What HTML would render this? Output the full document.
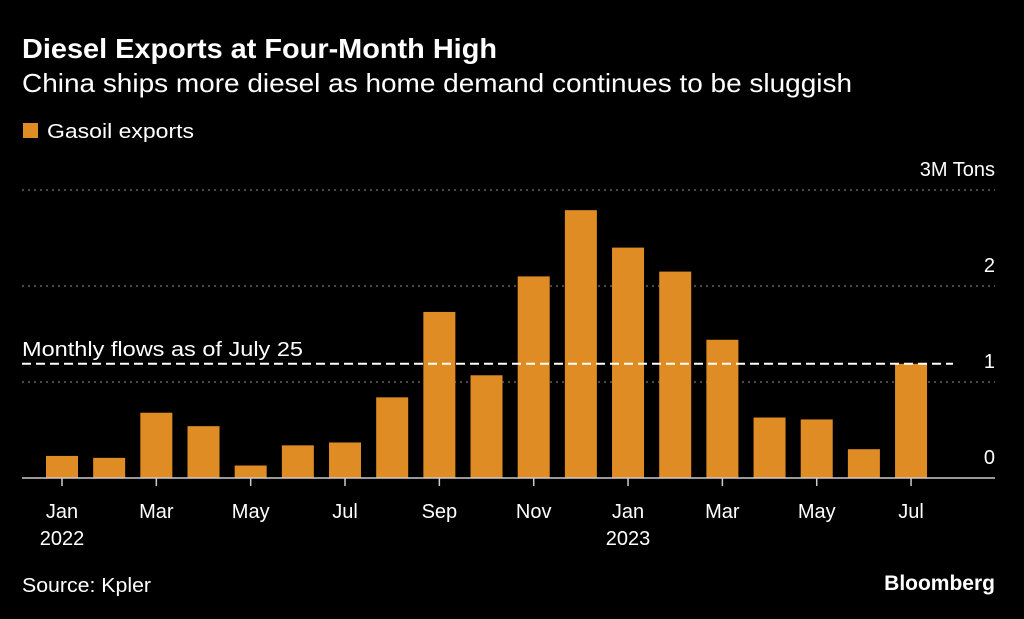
<!DOCTYPE html>
<html><head><meta charset="utf-8">
<style>
html,body{margin:0;padding:0;background:#000;}
body{width:1024px;height:619px;overflow:hidden;font-family:"Liberation Sans",sans-serif;}
</style></head>
<body>
<svg id="chart" width="1024" height="619" xmlns="http://www.w3.org/2000/svg" style="display:block">
<rect width="1024" height="619" fill="#000"/>
<text x="22" y="58" fill="#fff" font-size="28" font-weight="bold" textLength="475" lengthAdjust="spacingAndGlyphs">Diesel Exports at Four-Month High</text>
<text x="22" y="92" fill="#fff" font-size="26" textLength="830" lengthAdjust="spacingAndGlyphs">China ships more diesel as home demand continues to be sluggish</text>
<rect x="23" y="123" width="15" height="15" fill="#e08c24"/>
<text x="47" y="138" fill="#fff" font-size="20" textLength="147" lengthAdjust="spacingAndGlyphs">Gasoil exports</text>
<g id="grid"></g>
<g id="bars"></g>
<g id="xaxis"></g>
<text x="22" y="592" fill="#fff" font-size="20" textLength="129" lengthAdjust="spacingAndGlyphs">Source: Kpler</text>
<text x="995" y="590" fill="#fff" font-size="21" font-weight="bold" text-anchor="end">Bloomberg</text>
</svg>
<script>
const months = ["Jan","Feb","Mar","Apr","May","Jun","Jul","Aug","Sep","Oct","Nov","Dec","Jan","Feb","Mar","Apr","May","Jun","Jul"];
const values = [0.23,0.21,0.68,0.54,0.13,0.34,0.37,0.84,1.73,1.07,2.10,2.79,2.40,2.15,1.44,0.63,0.61,0.30,1.19];
const yTicks = [0,1,2,3];
const yTickLabels = ["0","1","2","3M Tons"];
const refValue = 1.19;
const refLabel = "Monthly flows as of July 25";
const xLabelIdx = [0,2,4,6,8,10,12,14,16,18];
const yearLabels = {0:"2022",12:"2023"};

const NS="http://www.w3.org/2000/svg";
const y0=478, pxPerUnit=96;
const yS=v=>y0-v*pxPerUnit;
const x0=62, step=47.17, bw=32;
const xS=i=>x0+i*step;
function mk(tag,attrs,parent){const e=document.createElementNS(NS,tag);for(const k in attrs)e.setAttribute(k,attrs[k]);parent.appendChild(e);return e;}
const grid=document.getElementById('grid'),bars=document.getElementById('bars'),xa=document.getElementById('xaxis');

yTicks.forEach((t,i)=>{
  if(t!==0){
    const l=mk('line',{x1:22,x2:995,y1:yS(t),y2:yS(t),stroke:'#777','stroke-width':1.2,'stroke-dasharray':'2,4'},grid);
    
    
  }
  const tx=mk('text',{x:995,y:yS(t)-14,fill:'#fff','font-size':20,'text-anchor':'end'},grid);
  tx.textContent=yTickLabels[i];
  
  
});

values.forEach((v,i)=>{
  const r=mk('rect',{x:xS(i)-bw/2,y:yS(v),width:bw,height:y0-yS(v),fill:'#e08c24'},bars);
  
  
});

const ref=mk('line',{x1:22,x2:953,y1:yS(refValue),y2:yS(refValue),stroke:'#fff','stroke-width':2,'stroke-dasharray':'9,5'},grid.parentNode);


const rt=mk('text',{x:22,y:yS(refValue)-8,fill:'#fff','font-size':20,textLength:281,lengthAdjust:'spacingAndGlyphs'},grid.parentNode);
rt.textContent=refLabel;



const base=mk('line',{x1:22,x2:995,y1:y0,y2:y0,stroke:'#ccc','stroke-width':1.5},xa);


xLabelIdx.forEach(i=>{
  const t=mk('line',{x1:xS(i),x2:xS(i),y1:y0,y2:y0+8,stroke:'#ccc','stroke-width':1.5},xa);
  
  
  const tx=mk('text',{x:xS(i),y:518,fill:'#fff','font-size':20,'text-anchor':'middle'},xa);
  tx.textContent=months[i];
  
  
  if(yearLabels[i]){
    const yt=mk('text',{x:xS(i),y:545,fill:'#fff','font-size':20,'text-anchor':'middle'},xa);
    yt.textContent=yearLabels[i];
    
    
  }
});
</script>
</body></html>
